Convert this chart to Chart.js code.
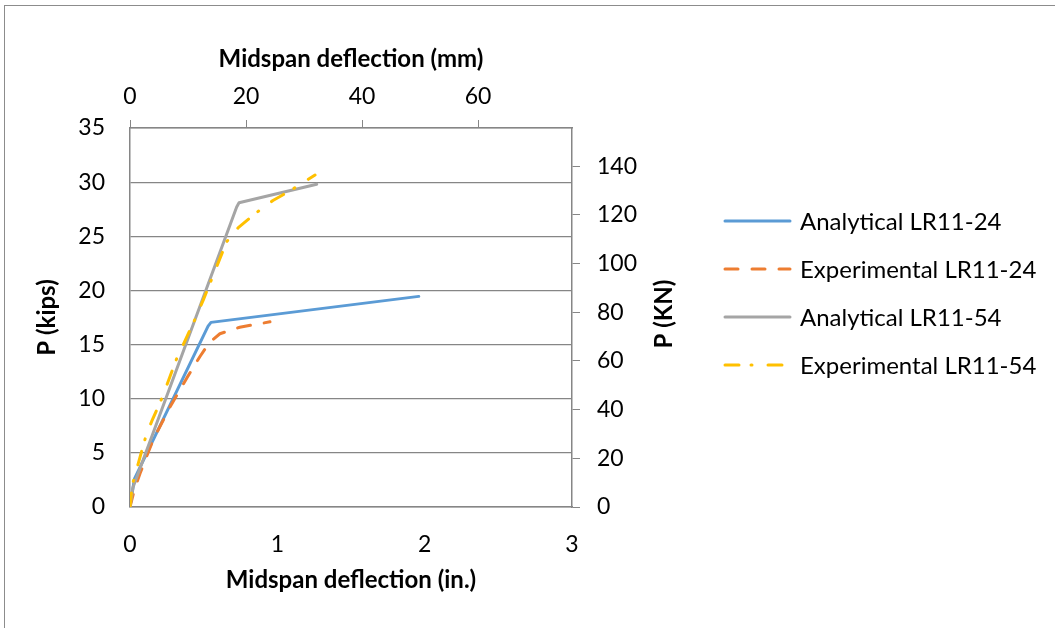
<!DOCTYPE html>
<html lang="en">
<head>
<meta charset="utf-8" />
<title>Load vs midspan deflection</title>
<style>
  body { margin: 0; background: #fff; }
  #frame { position: absolute; left: 4px; top: 5px; width: 1100px; height: 700px;
           border-top: 1px solid #8c8c8c; border-left: 1px solid #8c8c8c; }
  #deflectionChart { position: absolute; left: 0; top: 0; }
</style>
</head>
<body>
<div id="frame"></div>
<canvas id="deflectionChart" width="1055" height="628"></canvas>
<script src="https://cdn.jsdelivr.net/npm/chart.js"></script>
<script>
    // deflection in inches, load in kips
    const defl_a24 = [0, 0.03, 0.53, 0.55, 1.96];
    const load_a24 = [0, 2.6, 16.7, 17.05, 19.45];

    const defl_e24 = [0, 0.03, 0.068, 0.157, 0.27, 0.385, 0.475, 0.54, 0.61, 0.745, 0.95];
    const load_e24 = [0, 1.6, 3.1, 6.2, 9.2, 11.9, 13.9, 15.2, 16.0, 16.6, 17.1];

    const defl_a54 = [0, 0.02, 0.724, 0.74, 1.267];
    const load_a54 = [0, 1.8, 27.7, 28.1, 29.8];

    const defl_e54 = [0, 0.015, 0.068, 0.109, 0.147, 0.215, 0.317, 0.44, 0.497, 0.656, 0.735, 0.86, 0.97, 1.098, 1.256];
    const load_e54 = [0, 2.0, 4.6, 6.6, 7.9, 10.0, 13.7, 17.3, 19.1, 24.5, 25.8, 27.2, 28.3, 29.3, 30.65];

    const seriesNames = ['Analytical LR11-24', 'Experimental LR11-24', 'Analytical LR11-54', 'Experimental LR11-54'];

    // unit conversions for the secondary axes
    const IN_TO_MM = 25.4;
    const KIP_TO_KN = 4.448;
    const X_MAX = 3, Y_MAX = 35;

    const FONT = 'Lato, "Open Sans", sans-serif';
    const GRAY = '#868686';

    function pts(xs, ys) {
        return xs.map((x, i) => ({x: x, y: ys[i]}));
    }

    // legend drawn on the right, one line sample per dataset
    const sideLegend = {
        id: 'sideLegend',
        afterDraw(chart) {
            const ctx = chart.ctx;
            ctx.save();
            ctx.font = '24px ' + FONT;
            ctx.textBaseline = 'middle';
            ctx.fillStyle = '#000';
            chart.data.datasets.forEach((ds, i) => {
                const y = 221 + i * 48;
                ctx.strokeStyle = ds.borderColor;
                ctx.lineWidth = ds.borderWidth;
                ctx.lineCap = 'round';
                ctx.setLineDash(ds.borderDash || []);
                ctx.beginPath();
                ctx.moveTo(725, y);
                ctx.lineTo(790, y);
                ctx.stroke();
                ctx.setLineDash([]);
                ctx.fillText(ds.label, 800, y + 1);
            });
            ctx.restore();
        }
    };

    // right axis title reads bottom-to-top like the left one
    const rightTitle = {
        id: 'rightTitle',
        afterDraw(chart) {
            const ctx = chart.ctx;
            ctx.save();
            ctx.translate(664, 314);
            ctx.rotate(-Math.PI / 2);
            ctx.font = 'bold 24px ' + FONT;
            ctx.textAlign = 'center';
            ctx.textBaseline = 'middle';
            ctx.fillStyle = '#000';
            ctx.fillText('P (KN)', 0, 0);
            ctx.restore();
        }
    };

    const common = {
        showLine: true,
        fill: false,
        pointRadius: 0,
        borderWidth: 3,
        borderCapStyle: 'round',
        borderJoinStyle: 'round',
        tension: 0
    };

    const data = {
        datasets: [
            Object.assign({}, common, {label: seriesNames[0], data: pts(defl_a24, load_a24), borderColor: '#5B9BD5', order: 4}),
            Object.assign({}, common, {label: seriesNames[1], data: pts(defl_e24, load_e24), borderColor: '#ED7D31', borderDash: [13, 14], order: 3}),
            Object.assign({}, common, {label: seriesNames[2], data: pts(defl_a54, load_a54), borderColor: '#A5A5A5', order: 2}),
            Object.assign({}, common, {label: seriesNames[3], data: pts(defl_e54, load_e54), borderColor: '#FFC000', borderDash: [14, 12, 1, 16], order: 1})
        ]
    };

    const tickFont = {family: FONT, size: 23};
    const titleFont = {family: FONT, size: 24, weight: 'bold'};

    const config = {
        type: 'scatter',
        data: data,
        options: {
            responsive: false,
            animation: false,
            layout: {padding: {left: 0, top: 0, bottom: 0, right: 355}},
            plugins: {
                legend: {display: false},
                tooltip: {enabled: false}
            },
            scales: {
                x: {
                    type: 'linear', position: 'bottom', min: 0, max: X_MAX,
                    ticks: {stepSize: 1, font: tickFont, color: '#000', padding: 16},
                    grid: {display: false},
                    border: {color: GRAY, width: 1.5},
                    title: {display: true, text: 'Midspan deflection (in.)', font: titleFont, color: '#000', padding: {top: 0, bottom: 33}},
                    afterFit(s) { s.height = 121; }
                },
                x2: {
                    type: 'linear', axis: 'x', position: 'top', min: 0, max: X_MAX * IN_TO_MM,
                    ticks: {stepSize: 20, includeBounds: false, font: tickFont, color: '#000', padding: 10},
                    grid: {drawOnChartArea: false, drawTicks: true, tickLength: 8, color: GRAY, lineWidth: 1},
                    border: {color: GRAY, width: 1.5},
                    title: {display: true, text: 'Midspan deflection (mm)', font: titleFont, color: '#000', padding: {top: 45, bottom: 0}},
                    afterFit(s) { s.height = 128; }
                },
                y: {
                    type: 'linear', position: 'left', min: 0, max: Y_MAX,
                    ticks: {stepSize: 5, font: tickFont, color: '#000', padding: 25},
                    grid: {color: GRAY, lineWidth: 1.2, drawTicks: false},
                    border: {color: GRAY, width: 1.5},
                    title: {display: true, text: 'P (kips)', font: titleFont, color: '#000', padding: {top: 33, bottom: 0}},
                    afterFit(s) { s.width = 130; }
                },
                y2: {
                    type: 'linear', axis: 'y', position: 'right', min: 0, max: Y_MAX * KIP_TO_KN,
                    ticks: {stepSize: 20, includeBounds: false, font: tickFont, color: '#000', padding: 17},
                    grid: {drawOnChartArea: false, drawTicks: true, tickLength: 8, color: GRAY, lineWidth: 1},
                    border: {color: GRAY, width: 1.5},
                    afterFit(s) { s.width = 128; }
                }
            }
        },
        plugins: [sideLegend, rightTitle]
    };

    new Chart(document.getElementById('deflectionChart'), config);
</script>
</body>
</html>
